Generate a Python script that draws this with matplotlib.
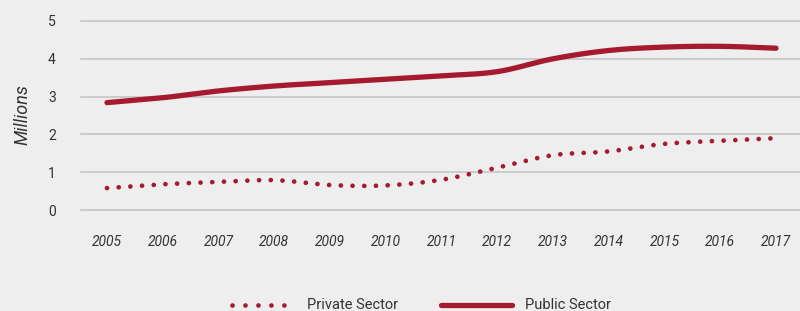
import numpy as np
import matplotlib
matplotlib.use("Agg")
import matplotlib.pyplot as plt
from matplotlib.lines import Line2D

years = [2005, 2006, 2007, 2008, 2009, 2010, 2011, 2012, 2013, 2014, 2015, 2016, 2017]
public_sector = [2.84, 2.97, 3.15, 3.28, 3.37, 3.46, 3.55, 3.66, 4.00, 4.22, 4.31, 4.33, 4.28]
private_sector = [0.58, 0.68, 0.74, 0.79, 0.66, 0.65, 0.80, 1.12, 1.45, 1.55, 1.75, 1.83, 1.90]
y_ticks = [0, 1, 2, 3, 4, 5]
legend_labels = ["Private Sector", "Public Sector"]

RED = "#A51A2E"
BG = "#EEEEEE"
GRID = "#C6C6C8"
TXT = "#333333"
DOT_LW = 3.4
DOT_STYLE = (0, (0.01, 8.4 / DOT_LW))

plt.rcParams['font.family'] = ['Roboto', 'DejaVu Sans']


def smooth(x, y, n=20):
    # Catmull-Rom rendering of the read points (for a smooth drawn curve)
    x = np.asarray(x, float); y = np.asarray(y, float)
    px = np.concatenate([[2*x[0]-x[1]], x, [2*x[-1]-x[-2]]])
    py = np.concatenate([[2*y[0]-y[1]], y, [2*y[-1]-y[-2]]])
    xs, ys = [], []
    t = np.linspace(0, 1, n, endpoint=False)
    for i in range(1, len(px)-2):
        f = lambda a0, a1, a2, a3: 0.5*((2*a1) + (-a0+a2)*t + (2*a0-5*a1+4*a2-a3)*t**2 + (-a0+3*a1-3*a2+a3)*t**3)
        xs.append(f(px[i-1], px[i], px[i+1], px[i+2])); ys.append(f(py[i-1], py[i], py[i+1], py[i+2]))
    xs.append([x[-1]]); ys.append([y[-1]])
    return np.concatenate(xs), np.concatenate(ys)


fig = plt.figure(figsize=(8, 3.11), dpi=100, facecolor=BG)
ax = fig.add_axes([81/800, 1-210/311, 719/800, (210-21)/311])
ax.set_facecolor(BG)

sx, sy = smooth(years, public_sector)
ax.plot(sx, sy, color=RED, lw=3.8, solid_capstyle='round', clip_on=False, zorder=3)
px, py = smooth(years, private_sector)
ax.plot(px, py, color=RED, lw=DOT_LW, linestyle=DOT_STYLE, dash_capstyle='round', clip_on=False, zorder=3)

ax.set_xlim(2004.534, 2017.43)
ax.set_ylim(0, 5)
ax.set_yticks(y_ticks)
ax.set_xticks(years)
ax.set_xticklabels([str(y) for y in years], fontstyle='italic', fontsize=10, color=TXT)
ax.set_yticklabels([str(v) for v in y_ticks], fontsize=10, color=TXT)
ax.tick_params(axis='x', length=0, pad=18)
ax.tick_params(axis='y', length=0, pad=18)
for s in ax.spines.values():
    s.set_visible(False)
ax.grid(axis='y', color=GRID, lw=1.2, clip_on=False)
for gl in ax.get_ygridlines():
    gl.set_clip_on(False)
ax.set_axisbelow(True)

fig.text(22/800, 1-115/311, "Millions", rotation=90, fontstyle='italic', fontsize=13,
         color=TXT, ha='center', va='center')

# legend (manually placed)
ly = 1 - 305/311
fig.add_artist(Line2D([232/800, 296/800], [ly, ly], transform=fig.transFigure, color=RED,
                      lw=DOT_LW, linestyle=(0, (0.01, 9.3 / DOT_LW)), dash_capstyle='round'))
fig.text(307/800, ly, legend_labels[0], fontsize=10.5, color=TXT, ha='left', va='center')
fig.add_artist(Line2D([441/800, 512/800], [ly, ly], transform=fig.transFigure, color=RED,
                      lw=3.8, solid_capstyle='round'))
fig.text(525/800, ly, legend_labels[1], fontsize=10.5, color=TXT, ha='left', va='center')

fig.savefig("out.png", dpi=100, facecolor=BG)
